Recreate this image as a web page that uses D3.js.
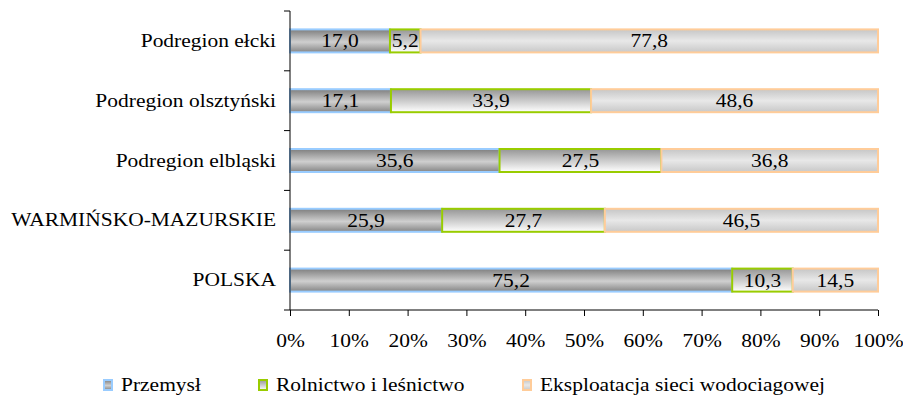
<!DOCTYPE html>
<html><head><meta charset="utf-8">
<script src="https://cdn.jsdelivr.net/npm/d3@7"></script>
</head><body style="margin:0">
<svg id="c" width="903" height="398"></svg>
<script>
const categories = ["Podregion ełcki","Podregion olsztyński","Podregion elbląski","WARMIŃSKO-MAZURSKIE","POLSKA"];
const seriesNames = ["Przemysł","Rolnictwo i leśnictwo","Eksploatacja sieci wodociagowej"];
const przemysl = [17.0,17.1,35.6,25.9,75.2];
const rolnictwo = [5.2,33.9,27.5,27.7,10.3];
const eksploatacja = [77.8,48.6,36.8,46.5,14.5];
const tickLabels = ["0%","10%","20%","30%","40%","50%","60%","70%","80%","90%","100%"];

const FONT = "Liberation Serif";
const FS = 19;
const SX = 1.13;
const svg = d3.select("#c");
const L = 290, R = 878, T = 11, B = 310;
const x = d3.scaleLinear().domain([0,1]).range([L,R]);
const y = d3.scaleBand().domain(categories).range([T,B]).paddingInner(0).paddingOuter(0);
const barH = 23;

const defs = svg.append("defs");
function grad(id, stops){
  const g = defs.append("linearGradient").attr("id",id).attr("x1",0).attr("y1",0).attr("x2",0).attr("y2",1);
  stops.forEach(s=>g.append("stop").attr("offset",s[0]).attr("stop-color",s[1]));
}
grad("g0",[[0,"#7e7e7e"],[0.55,"#cfcfcf"],[1,"#858585"]]);
grad("g1",[[0,"#969696"],[1,"#ffffff"]]);
grad("g2",[[0,"#c6c6c6"],[0.5,"#e8e8e8"],[1,"#c8c8c8"]]);
const fills = ["url(#g0)","url(#g1)","url(#g2)"];
const strokes = ["#99ccff","#99cc00","#ffcc99"];

const rows = categories.map((c,i)=>({cat:c, vals:[przemysl[i],rolnictwo[i],eksploatacja[i]]}));
const stackData = rows.map(r=>{const s=d3.sum(r.vals); return {cat:r.cat, a:r.vals[0]/s, b:r.vals[1]/s, c:r.vals[2]/s, raw:r.vals};});
const stack = d3.stack().keys(["a","b","c"])(stackData);

stack.forEach((layer,k)=>{
  svg.append("g").selectAll("rect").data(layer).enter().append("rect")
    .attr("x",d=>x(d[0])).attr("width",d=>x(d[1])-x(d[0]))
    .attr("y",d=>y(d.data.cat)+y.bandwidth()/2-barH/2).attr("height",barH)
    .attr("fill",fills[k]).attr("stroke",strokes[k]).attr("stroke-width",2);
});
stack.forEach((layer,k)=>{
  svg.append("g").selectAll("text").data(layer).enter().append("text")
    .attr("transform",d=>`translate(${(x(d[0])+x(d[1]))/2},${y(d.data.cat)+y.bandwidth()/2+6.5}) scale(${SX},1)`)
    .attr("text-anchor","middle")
    .attr("font-family",FONT).attr("font-size",FS)
    .text(d=>d3.format(".1f")(d.data.raw[k]).replace(".",","));
});

// x axis
const xAxis = d3.axisBottom(x).tickValues(d3.range(0,1.0001,0.1)).tickSize(6).tickPadding(18)
  .tickFormat((d,i)=>tickLabels[i]);
const gx = svg.append("g").attr("transform",`translate(0,${B})`).call(xAxis);
gx.attr("font-family",FONT).attr("font-size",FS);
gx.select(".domain").attr("d",`M${L},0H${R}`).attr("stroke","#000");
gx.selectAll("line").attr("stroke","#000");
gx.selectAll("text").attr("fill","#000").attr("transform",`scale(${SX},1)`);

// y axis
const yAxis = d3.axisLeft(y).tickSize(0).tickPadding(14);
const gy = svg.append("g").attr("transform",`translate(${L},0)`).call(yAxis);
gy.attr("font-family",FONT).attr("font-size",FS);
gy.select(".domain").attr("d",`M0,${T}V${B}`).attr("stroke","#000");
gy.selectAll("text").attr("fill","#000").attr("x",-14/SX).attr("transform",`scale(${SX},1)`);
const bounds = categories.map(c=>y(c)).concat([B]);
svg.append("g").selectAll("line").data(bounds).enter().append("line")
  .attr("x1",L-6).attr("x2",L).attr("y1",d=>d).attr("y2",d=>d).attr("stroke","#000");

// legend
const legX = [103,258,522];
const lg = svg.append("g");
seriesNames.forEach((n,k)=>{
  lg.append("rect").attr("x",legX[k]+1).attr("y",380).attr("width",8).attr("height",10)
    .attr("fill",fills[k]).attr("stroke",strokes[k]).attr("stroke-width",2);
  lg.append("text").attr("transform",`translate(${legX[k]+18},391) scale(${SX},1)`)
    .attr("font-family",FONT).attr("font-size",FS).text(n);
});
</script></body></html>
